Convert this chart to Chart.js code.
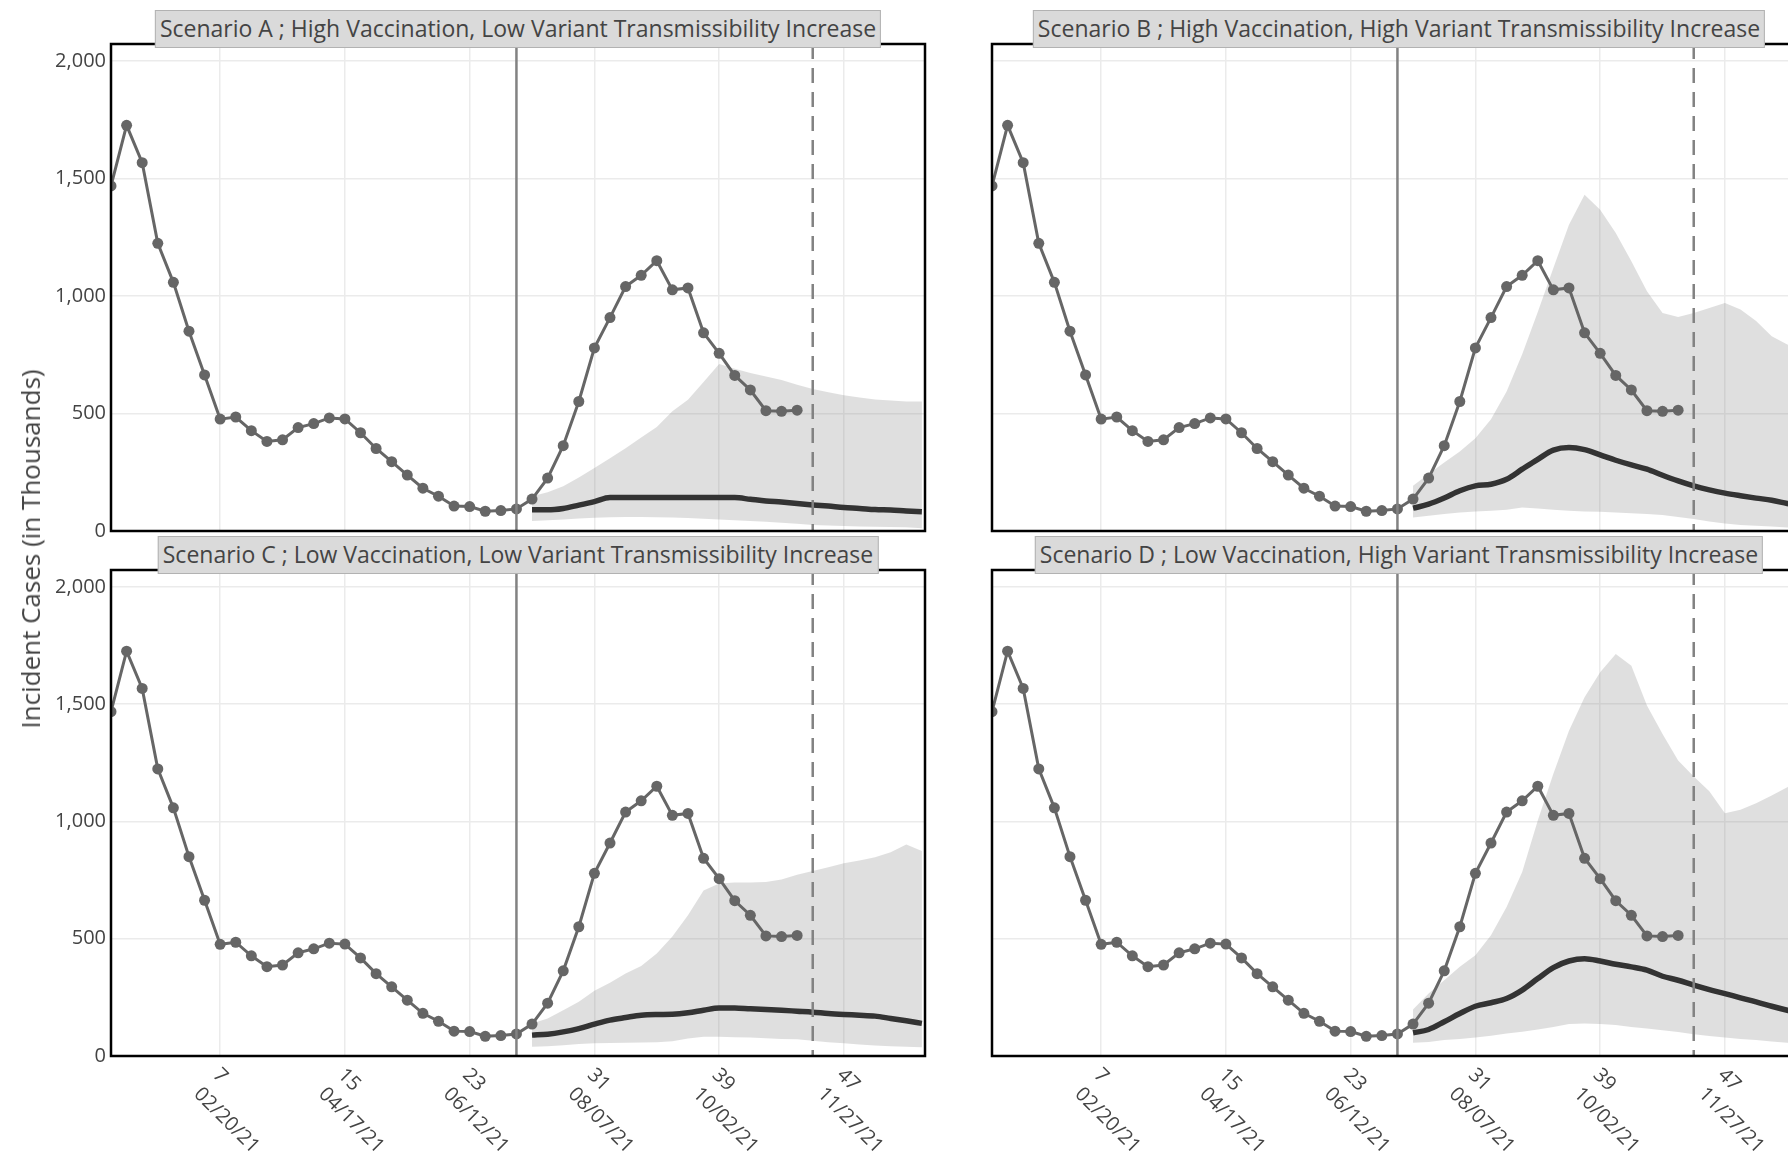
<!DOCTYPE html>
<html lang="en">
  <head>
    <meta charset="UTF-8" />
    <title>Incident Cases - Scenario Projections</title>
    <script src="https://cdn.jsdelivr.net/npm/chart.js@4.4.1/dist/chart.umd.min.js"></script>
    <style>
      html,
      body {
        margin: 0;
        padding: 0;
        width: 1788px;
        height: 1152px;
        overflow: hidden;
        background: #fff;
        font-family: "Open Sans", sans-serif;
      }
      body {
        position: relative;
      }
      canvas {
        position: absolute;
      }
      .strip {
        position: absolute;
        box-sizing: border-box;
        height: 38px;
        line-height: 35px;
        padding: 0 4px;
        background: #dadada;
        border: 1.5px solid #b2b2b2;
        color: #444;
        font-size: 23px;
        white-space: nowrap;
        transform: translateX(-50%);
        z-index: 2;
      }
      #ytitle {
        position: absolute;
        left: 30px;
        top: 549px;
        transform: translate(-50%, -50%) rotate(-90deg);
        font-size: 26px;
        color: #444;
        white-space: nowrap;
        z-index: 2;
      }
    </style>
  </head>
  <body>
    <div id="ytitle">Incident Cases (in Thousands)</div>

    <script>
      // x axis: epi weeks, tick text = week number + week-ending date
      const tickWeeks = [7, 15, 23, 31, 39, 47];
      const tickDates = ["02/20/21", "04/17/21", "06/12/21", "08/07/21", "10/02/21", "11/27/21"];
      const yTicks = [0, 500, 1000, 1500, 2000];
      const forecastWeek = 26;
      const horizonWeek = 45;
      const obsStartWeek = 0;
      const projStartWeek = 27;

      // observed weekly cases (thousands), weeks 0..44
      const observed = [1468, 1726, 1567, 1224, 1058, 850, 664, 476, 485, 427, 381, 388, 440, 457, 481,
        477, 418, 351, 295, 238, 182, 148, 106, 104, 84, 87, 94, 136, 225, 363, 551, 779, 908, 1040,
        1088, 1150, 1026, 1034, 843, 756, 662, 600, 512, 509, 514];

      // projections, weeks 27..52
      const medianA = [90, 90, 96, 110, 125, 142, 142, 142, 142, 142, 142, 142, 142, 142, 135, 128, 123, 117, 111, 106, 100, 96, 91, 89, 85, 82];
      const upperA = [148, 165, 190, 228, 268, 310, 352, 398, 442, 510, 558, 634, 710, 690, 672, 657, 642, 622, 604, 590, 578, 568, 560, 555, 551, 551];
      const lowerA = [43, 46, 49, 53, 56, 59, 60, 60, 59, 57, 55, 52, 49, 46, 43, 39, 35, 31, 26, 23, 21, 19, 18, 17, 16, 12];

      const medianB = [97, 114, 140, 171, 192, 199, 220, 263, 305, 344, 355, 346, 324, 301, 281, 263, 237, 213, 192, 175, 161, 150, 140, 131, 117, 105];
      const upperB = [192, 242, 291, 338, 395, 475, 593, 752, 932, 1119, 1303, 1431, 1367, 1268, 1148, 1020, 928, 910, 928, 949, 970, 942, 893, 829, 794, 770];
      const lowerB = [57, 65, 72, 79, 83, 86, 90, 100, 96, 90, 86, 83, 82, 79, 76, 72, 68, 60, 51, 40, 32, 26, 22, 19, 15, 14];

      const medianC = [89, 93, 103, 117, 136, 153, 164, 174, 177, 178, 184, 195, 205, 205, 201, 198, 195, 191, 187, 181, 177, 174, 170, 160, 150, 139];
      const upperC = [139, 160, 195, 231, 278, 312, 352, 384, 437, 510, 600, 706, 735, 740, 740, 742, 752, 773, 789, 805, 822, 834, 847, 869, 902, 874];
      const lowerC = [39, 42, 46, 51, 54, 55, 56, 58, 59, 63, 75, 82, 82, 80, 79, 76, 73, 71, 65, 59, 54, 49, 45, 42, 39, 37];

      const medianD = [99, 113, 146, 181, 212, 227, 245, 281, 330, 377, 405, 415, 405, 391, 380, 366, 340, 323, 302, 283, 266, 248, 231, 212, 195, 180];
      const upperD = [198, 266, 323, 380, 430, 515, 635, 784, 1004, 1203, 1387, 1529, 1636, 1714, 1664, 1494, 1373, 1260, 1192, 1129, 1035, 1050, 1078, 1111, 1146, 1180];
      const lowerD = [56, 60, 68, 73, 79, 86, 96, 103, 113, 124, 136, 139, 136, 132, 124, 117, 110, 102, 93, 85, 79, 73, 68, 62, 56, 52];

      const titles = [
        "Scenario A ; High Vaccination, Low Variant Transmissibility Increase",
        "Scenario B ; High Vaccination, High Variant Transmissibility Increase",
        "Scenario C ; Low Vaccination, Low Variant Transmissibility Increase",
        "Scenario D ; Low Vaccination, High Variant Transmissibility Increase",
      ];

      // panel placement (plot area, px)
      const PLOT_W = 814;
      const panels = [
        { left: 111, top: 44, h: 487, yLabels: true, xLabels: false, med: medianA, up: upperA, lo: lowerA },
        { left: 992, top: 44, h: 487, yLabels: false, xLabels: false, med: medianB, up: upperB, lo: lowerB },
        { left: 111, top: 570, h: 486, yLabels: true, xLabels: true, med: medianC, up: upperC, lo: lowerC },
        { left: 992, top: 570, h: 486, yLabels: false, xLabels: true, med: medianD, up: upperD, lo: lowerD },
      ];

      const toPoints = (arr, start) => arr.map((v, i) => ({ x: start + i, y: v }));

      const markerLines = {
        id: "markerLines",
        afterDatasetsDraw(chart) {
          const { ctx, chartArea, scales } = chart;
          ctx.save();
          ctx.strokeStyle = "#828282";
          ctx.lineWidth = 2.5;
          [[forecastWeek, []], [horizonWeek, [15, 9]]].forEach(([w, dash]) => {
            const px = scales.x.getPixelForValue(w);
            ctx.setLineDash(dash);
            ctx.beginPath();
            ctx.moveTo(px, chartArea.top);
            ctx.lineTo(px, chartArea.bottom);
            ctx.stroke();
          });
          ctx.restore();
        },
      };

      const panelBox = {
        id: "panelBox",
        afterDraw(chart) {
          const { ctx, chartArea: a } = chart;
          ctx.save();
          ctx.strokeStyle = "#000";
          ctx.lineWidth = 2.5;
          ctx.strokeRect(a.left, a.top, a.right - a.left, a.bottom - a.top);
          ctx.restore();
        },
      };

      // rotated two-line week labels under the bottom panels
      const weekLabels = {
        id: "weekLabels",
        afterDraw(chart, args, opts) {
          if (!opts.show) return;
          const { ctx, chartArea, scales } = chart;
          ctx.save();
          ctx.font = '20px "Open Sans"';
          ctx.fillStyle = "#444";
          ctx.textAlign = "left";
          ctx.textBaseline = "middle";
          tickWeeks.forEach((w, i) => {
            ctx.save();
            ctx.translate(scales.x.getPixelForValue(w) - 4, chartArea.bottom + 16);
            ctx.rotate(Math.PI / 4);
            ctx.fillText(String(w), 0, 0);
            ctx.fillText(tickDates[i], 0, 27);
            ctx.restore();
          });
          ctx.restore();
        },
      };

      panels.forEach((p, k) => {
        const yW = p.yLabels ? 100 : 10;
        const padT = 20;
        const padR = 10;
        const xH = p.xLabels ? 1152 - (p.top + p.h) : 20;

        const canvas = document.createElement("canvas");
        canvas.width = yW + PLOT_W + padR;
        canvas.height = padT + p.h + xH;
        canvas.style.left = p.left - yW + "px";
        canvas.style.top = p.top - padT + "px";
        document.body.appendChild(canvas);

        const strip = document.createElement("div");
        strip.className = "strip";
        strip.textContent = titles[k];
        strip.style.left = p.left + PLOT_W / 2 + "px";
        strip.style.top = p.top - 34 + "px";
        document.body.appendChild(strip);

        const grid = { color: "#ebebeb", lineWidth: 1.5, drawTicks: false };

        new Chart(canvas, {
          type: "line",
          data: {
            datasets: [
              {
                data: toPoints(observed, obsStartWeek),
                borderColor: "#666",
                borderWidth: 3,
                pointRadius: 5.5,
                pointBackgroundColor: "#666",
                pointBorderWidth: 0,
                clip: 0,
                order: 1,
              },
              {
                data: toPoints(p.med, projStartWeek),
                borderColor: "#333",
                borderWidth: 5.5,
                pointRadius: 0,
                cubicInterpolationMode: "monotone",
                clip: 0,
                order: 2,
              },
              {
                data: toPoints(p.up, projStartWeek),
                borderWidth: 0,
                pointRadius: 0,
                backgroundColor: "rgba(128,128,128,0.25)",
                fill: "+1",
                clip: 0,
                order: 3,
              },
              {
                data: toPoints(p.lo, projStartWeek),
                borderWidth: 0,
                pointRadius: 0,
                fill: false,
                clip: 0,
                order: 4,
              },
            ],
          },
          options: {
            responsive: false,
            animation: false,
            events: [],
            layout: { padding: { top: padT, right: padR, left: 0, bottom: 0 } },
            plugins: {
              legend: { display: false },
              tooltip: { enabled: false },
              weekLabels: { show: p.xLabels },
            },
            scales: {
              x: {
                type: "linear",
                min: 0,
                max: 52.2,
                grid: grid,
                border: { display: false },
                ticks: { display: false },
                afterBuildTicks: (s) => { s.ticks = tickWeeks.map((v) => ({ value: v })); },
                afterFit: (s) => { s.height = xH; },
              },
              y: {
                min: 0,
                max: 2072,
                grid: grid,
                border: { display: false },
                ticks: {
                  display: p.yLabels,
                  color: "#444",
                  padding: 5,
                  font: { family: "Open Sans", size: 20 },
                  callback: (v) => v.toLocaleString("en-US"),
                },
                afterBuildTicks: (s) => { s.ticks = yTicks.map((v) => ({ value: v })); },
                afterFit: (s) => { s.width = yW; },
              },
            },
          },
          plugins: [markerLines, panelBox, weekLabels],
        });
      });
    </script>
  </body>
</html>
